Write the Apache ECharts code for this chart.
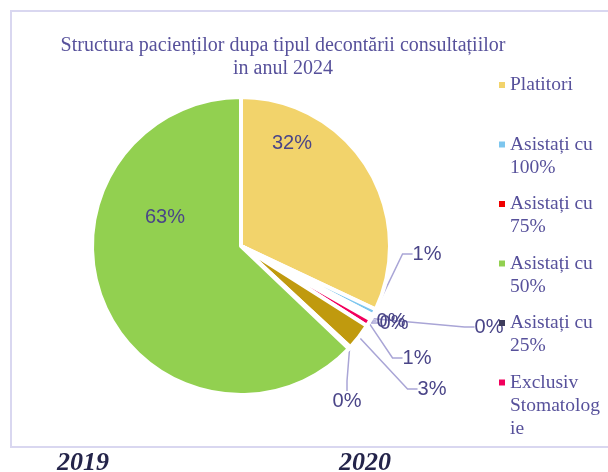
<!DOCTYPE html>
<html>
<head>
<meta charset="utf-8">
<script src="https://cdn.jsdelivr.net/npm/echarts@6/dist/echarts.min.js"></script>
<style>
  html, body { margin: 0; padding: 0; background: #ffffff; }
  #chart { width: 608px; height: 472px; }
</style>
</head>
<body>
<div id="chart"></div>
<script>
// Patient structure by type of consultation reimbursement, 2024 (shares in %)
const categories = [
  'Platitori',
  'Asistați cu 100%',
  'Asistați cu 75%',
  'Asistați cu 50%',
  'Asistați cu 25%',
  'Exclusiv Stomatologie',
  'Scutiți',
  'Alte categorii',
  'Asigurați CNAM'
];
const shares = [32.0, 0.7, 0.2, 0.1, 0.2, 0.8, 2.9, 0.2, 62.9];
const sliceColors = [
  '#F2D36B', '#7DC6EE', '#F00000', '#92D050', '#3E3C5C',
  '#F2005C', '#C09A0E', '#8C89C4', '#92D050'
];

// Legend entries as they wrap in the legend column (first six categories only)
const legendLines = [
  ['Platitori'],
  ['Asistați cu', '100%'],
  ['Asistați cu', '75%'],
  ['Asistați cu', '50%'],
  ['Asistați cu', '25%'],
  ['Exclusiv', 'Stomatolog', 'ie']
];
const titleLines = ['Structura pacienților dupa tipul decontării consultațiilor', 'in anul 2024'];
const yearLabels = ['2019', '2020'];

const TEXT_COLOR = '#57519B';
const LABEL_COLOR = '#4A4588';

// Where each percentage label sits (label centres, px)
const labelSpots = {
  0: [292, 143], 1: [427, 254], 2: [391, 321], 3: [394, 323], 4: [489, 327],
  5: [417, 358], 6: [432, 389], 7: [347, 401], 8: [165, 217]
};
const insideSlices = [0, 8];

const pieData = categories.map((name, i) => {
  const item = { name: name, value: shares[i], itemStyle: { color: sliceColors[i] } };
  if (insideSlices.indexOf(i) >= 0) {
    item.label = { position: 'inside' };
    item.labelLine = { show: false };
  }
  return item;
});

const legendNames = categories.slice(0, legendLines.length);

const chart = echarts.init(document.getElementById('chart'), null, { renderer: 'canvas' });

chart.setOption({
  animation: false,
  backgroundColor: '#ffffff',
  title: {
    text: titleLines.join('\n'),
    left: 283,
    top: 34.5,
    textAlign: 'center',
    padding: 0,
    textStyle: {
      fontFamily: 'Liberation Serif',
      fontSize: 20,
      fontWeight: 'normal',
      lineHeight: 23,
      color: TEXT_COLOR
    }
  },
  legend: {
    orient: 'vertical',
    left: 499,
    top: 73.5,
    padding: 0,
    itemWidth: 6,
    itemHeight: 52,
    itemGap: -9.5,
    // small square sitting level with the first text line
    icon: 'path://M0,0L6,0L6,6L0,6Z M0,52L0,52',
    itemStyle: { borderWidth: 0 },
    selectedMode: false,
    data: legendNames,
    formatter: function (name) {
      const lines = legendLines[legendNames.indexOf(name)].slice();
      while (lines.length < 3) lines.push(' ');
      return lines.join('\n');
    },
    textStyle: {
      fontFamily: 'Liberation Serif',
      fontSize: 19.5,
      lineHeight: 23,
      color: TEXT_COLOR
    }
  },
  graphic: [
    {
      type: 'rect',
      silent: true,
      z: -1,
      shape: { x: 11, y: 11, width: 620, height: 436 },
      style: { fill: 'none', stroke: '#D9D7F0', lineWidth: 2 }
    },
    {
      type: 'text',
      x: 57, y: 463,
      style: { text: yearLabels[0], font: 'italic bold 26px "Liberation Serif"', fill: '#24244A', verticalAlign: 'middle' }
    },
    {
      type: 'text',
      x: 339, y: 463,
      style: { text: yearLabels[1], font: 'italic bold 26px "Liberation Serif"', fill: '#24244A', verticalAlign: 'middle' }
    }
  ],
  series: [{
    type: 'pie',
    center: [241, 246],
    radius: 149,
    startAngle: 90,
    clockwise: true,
    avoidLabelOverlap: false,
    emphasis: { disabled: true },
    itemStyle: { borderColor: '#ffffff', borderWidth: 4 },
    label: {
      show: true,
      position: 'outside',
      formatter: function (p) { return Math.round(p.percent) + '%'; },
      fontFamily: 'Liberation Sans',
      fontSize: 20,
      color: LABEL_COLOR
    },
    labelLine: {
      show: true,
      length: 10,
      length2: 10,
      lineStyle: { color: '#A9A5D6', width: 1.5 }
    },
    labelLayout: function (p) {
      const s = labelSpots[p.dataIndex];
      return s ? { x: s[0], y: s[1], align: 'center', verticalAlign: 'middle' } : {};
    },
    data: pieData
  }]
});
</script>
</body>
</html>
